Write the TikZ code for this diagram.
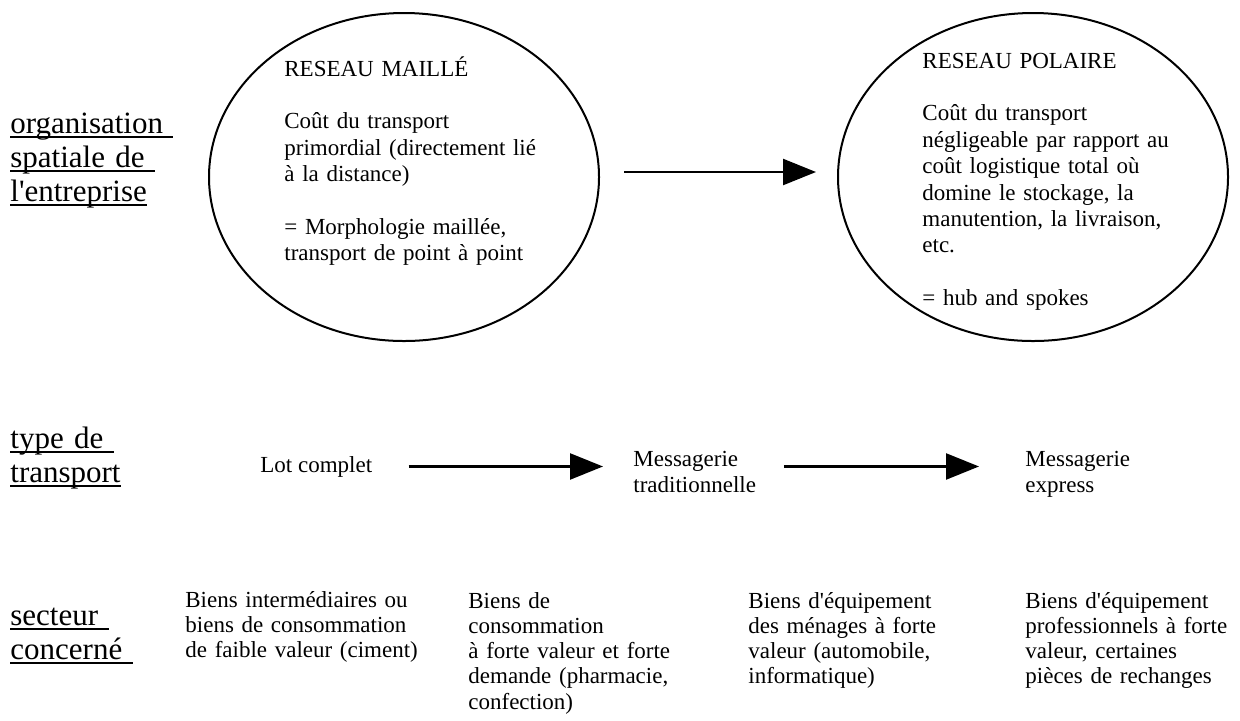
\documentclass[tikz,border=0pt]{standalone}
\usepackage{fontspec}
\setmainfont{Liberation Serif}
\usepackage{tikz}
\usetikzlibrary{arrows.meta}
\usetikzlibrary{positioning, shapes.geometric}

% souligne sur toute la largeur de la boite (espace final compris)
\newcommand{\souligne}[1]{\leavevmode\setbox0\hbox{#1}\rlap{\rule[-2.4pt]{\wd0}{0.8pt}}\box0}

\tikzset{
reseau/.style = { ellipse, draw = black, line width = 1pt, minimum width = 195pt, minimum height = 164pt, inner sep = 0pt },
rubrique/.style = { anchor = base west, inner sep = 0pt, text width = 100pt, align = left, font = \fontsize{15.5}{17}\selectfont },
texte reseau/.style = { anchor = base west, inner sep = 0pt, text width = 140pt, align = left, font = \fontsize{11.5}{13.2}\selectfont },
mode/.style = { anchor = base west, inner sep = 0pt, align = left, font = \fontsize{11.5}{13}\selectfont },
biens/.style = { anchor = base west, inner sep = 0pt, text width = 130pt, align = left, font = \fontsize{11.5}{12.65}\selectfont },
fleche/.style = { draw = black, line width = 1.2pt, -{Triangle[length = 16.5pt, width = 13pt]} },
}

\begin{document}
\begin{tikzpicture}[x = 0.5pt, y = -0.5pt]
    \useasboundingbox (0, 0) rectangle (1240, 720);

    % organisation spatiale
    \node[rubrique] (organisation) at (10, 133) {\souligne{organisation\ }\\ \souligne{spatiale de\ }\\ \souligne{l\textquotesingle entreprise}};
    \node[reseau] (maille) at (404, 177) {};
    \node[reseau] (polaire) at (1033, 177) {};
    \node[texte reseau] (txt maille) at (284, 76) {RESEAU MAILLÉ\\[13.2pt] Coût du transport\\ primordial (directement lié\\ à la distance)\\[13.2pt] = Morphologie maillée,\\ transport de point à point};
    \node[texte reseau] (txt polaire) at (922, 68) {RESEAU POLAIRE\\[13.2pt] Coût du transport\\ négligeable par rapport au\\ coût logistique total où\\ domine le stockage, la\\ manutention, la livraison,\\ etc.\\[13.2pt] = hub and spokes};
    \draw[fleche, shorten <= 12pt, shorten >= 10.5pt] ([yshift = 2.5pt]maille.east) -- ([yshift = 2.5pt]polaire.west);

    % type de transport
    \node[rubrique] (type) at (10, 448) {\souligne{type de\ }\\ \souligne{transport}};
    \node[mode] (lot) at (260, 472) {Lot complet};
    \node[mode, text width = 64pt] (traditionnelle) at (633, 466) {Messagerie\\ traditionnelle};
    \node[mode, text width = 64pt] (express) at (1025, 466) {Messagerie\\ express};
    \draw[fleche, shorten <= 18pt, shorten >= 15pt] (lot.east) -- (lot.east -| traditionnelle.west);
    \draw[fleche, shorten <= 11pt, shorten >= 23pt] (traditionnelle.east |- lot.east) -- (express.west |- lot.east);

    % secteur concerne
    \node[rubrique] (secteur) at (10, 625) {\souligne{secteur\ }\\ \souligne{concerné\ }};
    \node[biens] (biens inter) at (185, 607) {Biens intermédiaires ou\\ biens de consommation\\ de faible valeur (ciment)};
    \node[biens] (biens conso) at (468, 608) {Biens de\\ consommation\\ à forte valeur et forte\\ demande (pharmacie,\\ confection)};
    \node[biens] (biens menages) at (748, 608) {Biens d\textquotesingle équipement\\ des ménages à forte\\ valeur (automobile,\\ informatique)};
    \node[biens] (biens pro) at (1025, 608) {Biens d\textquotesingle équipement\\ professionnels à forte\\ valeur, certaines\\ pièces de rechanges};
\end{tikzpicture}
\end{document}
